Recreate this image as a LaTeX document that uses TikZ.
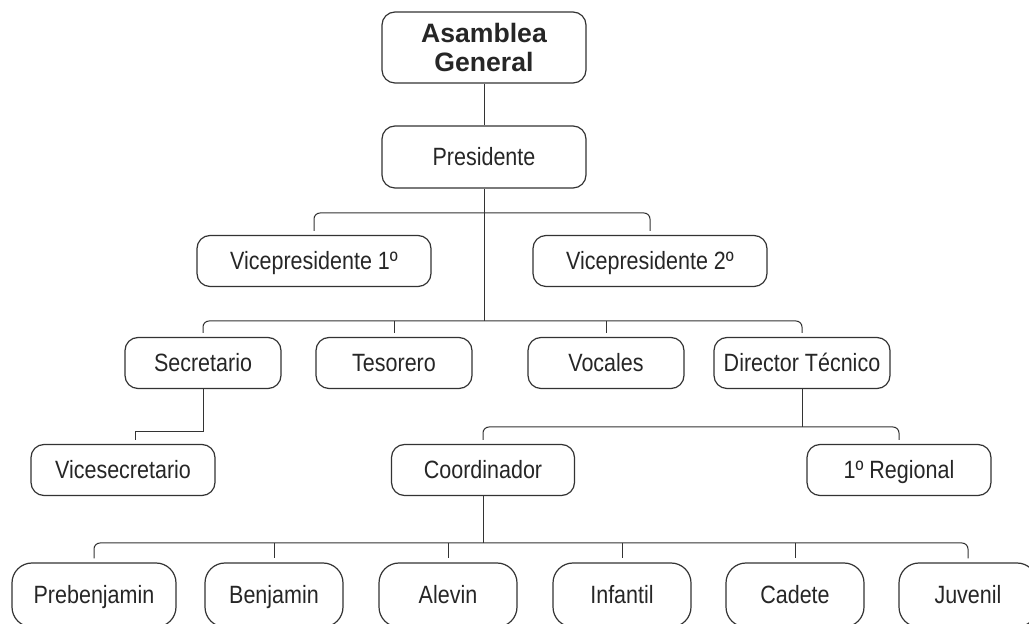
\documentclass[tikz,border=0pt]{standalone}
\usepackage{fontspec}
\setmainfont{Liberation Sans}
\newfontfamily\narrowfont{Liberation Sans}[FakeStretch=0.86]
\usepackage{tikz}
\usetikzlibrary{calc}

\begin{document}
\begin{tikzpicture}[x=0.5pt, y=-0.5pt,
		box/.style={draw=black!80, line width=0.6pt, rounded corners=6.5pt, inner sep=0pt, text=black!85},
		unit/.style={box, minimum height=25.5pt, text height=9pt, text depth=0pt, font=\narrowfont\fontsize{12.5}{15}\selectfont},
		lowunit/.style={unit, rounded corners=10pt, minimum height=32pt, minimum width=69pt},
		link/.style={draw=black!80, line width=0.5pt},
		bar/.style={link, rounded corners=3pt, shorten <=2pt, shorten >=2pt}]
			\useasboundingbox (0, 0) rectangle (1029, 624);
			\node[box, minimum width=102pt, minimum height=35.5pt, align=center, font=\bfseries\fontsize{13.3}{14.5}\selectfont] (asamblea) at (484, 47.5) {Asamblea\\General};
			\node[unit, minimum width=102pt, minimum height=31pt] (pres) at (484, 157) {Presidente};
			\node[unit, minimum width=117pt] (vice1) at (314, 261) {Vicepresidente 1º};
			\node[unit, minimum width=117pt] (vice2) at (650, 261) {Vicepresidente 2º};
			\node[unit, minimum width=78pt] (secre) at (203, 363) {Secretario};
			\node[unit, minimum width=78pt] (teso) at (394, 363) {Tesorero};
			\node[unit, minimum width=78pt] (voc) at (606, 363) {Vocales};
			\node[unit, minimum width=88pt] (dir) at (802, 363) {Director Técnico};
			\node[unit, minimum width=92pt] (vsec) at (123, 470) {Vicesecretario};
			\node[unit, minimum width=91.5pt] (coord) at (483, 470) {Coordinador};
			\node[unit, minimum width=92pt] (reg) at (899, 470) {1º Regional};
			\node[lowunit, minimum width=82pt] (preb) at (94, 595) {Prebenjamin};
			\node[lowunit] (benj) at (274, 595) {Benjamin};
			\node[lowunit] (alev) at (448, 595) {Alevin};
			\node[lowunit] (inf) at (622, 595) {Infantil};
			\node[lowunit] (cad) at (795, 595) {Cadete};
			\node[lowunit] (juv) at (968, 595) {Juvenil};
			% branch points
			\coordinate (vicebar) at (484, 213);
			\coordinate (mainbar) at (484, 321);
			\coordinate (secbend) at (203, 432);
			\coordinate (dirbar) at (802, 427);
			\coordinate (coordbar) at (483, 543);
			\draw[link] (asamblea) -- (pres);
			\draw[link] (pres) -- (mainbar);
			\draw[bar] (vice1.north) |- (vicebar) -| (vice2.north);
			\draw[bar] (secre.north) |- (mainbar) -| (dir.north);
			\draw[link, shorten >=2pt] (mainbar -| teso) -- (teso.north);
			\draw[link, shorten >=2pt] (mainbar -| voc) -- (voc.north);
			\draw[link, shorten >=2pt] (secre) -- (secbend) -| ([xshift=6pt]vsec.north);
			\draw[link] (dir) -- (dirbar);
			\draw[bar] (coord.north) |- (dirbar) -| (reg.north);
			\draw[link] (coord) -- (coordbar);
			\draw[bar] (preb.north) |- (coordbar) -| (juv.north);
			\draw[link, shorten >=2pt] (coordbar -| benj) -- (benj.north);
			\draw[link, shorten >=2pt] (coordbar -| alev) -- (alev.north);
			\draw[link, shorten >=2pt] (coordbar -| inf) -- (inf.north);
			\draw[link, shorten >=2pt] (coordbar -| cad) -- (cad.north);
		\end{tikzpicture}
\end{document}
